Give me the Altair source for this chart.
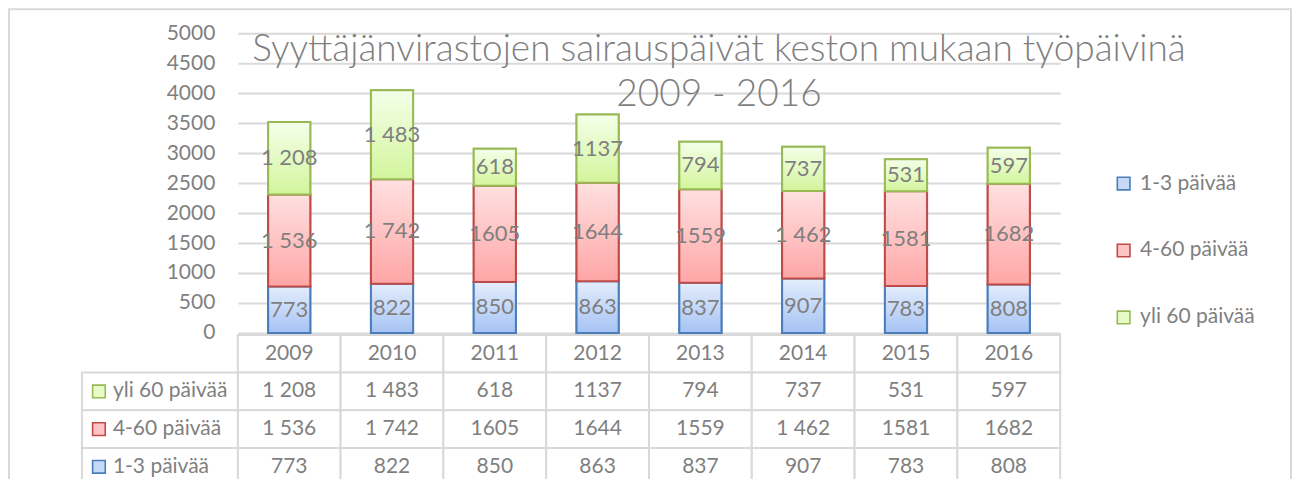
import altair as alt
import pandas as pd

# ---------------- data ----------------
years = ["2009", "2010", "2011", "2012", "2013", "2014", "2015", "2016"]
series = ["1-3 päivää", "4-60 päivää", "yli 60 päivää"]
v_short = [773, 822, 850, 863, 837, 907, 783, 808]
v_mid = [1536, 1742, 1605, 1644, 1559, 1462, 1581, 1682]
v_long = [1208, 1483, 618, 1137, 794, 737, 531, 597]
lbl_short = ["773", "822", "850", "863", "837", "907", "783", "808"]
lbl_mid = ["1 536", "1 742", "1605", "1644", "1559", "1 462", "1581", "1682"]
lbl_long = ["1 208", "1 483", "618", "1137", "794", "737", "531", "597"]
table_rows = ["Vuosi", "yli 60 päivää", "4-60 päivää", "1-3 päivää"]
y_ticks = list(range(0, 5001, 500))
title_lines = ["Syyttäjänvirastojen sairauspäivät keston mukaan työpäivinä", "2009 - 2016"]

# ---------------- styling ----------------
FONT = "Lato"
GREY = "#7f7f7f"
LINE = "#d9d9d9"
fill_solid = ["#c6d9f7", "#ffc4c4", "#e6fbc6"]
strokes = ["#4a7ebb", "#be4b48", "#98b954"]
grads = [
    ("#e3edfc", "#a6c3f4"),
    ("#ffe0e0", "#ffa6a6"),
    ("#f4ffe9", "#d3f59c"),
]

W, H = 823, 300
PAD_L, PAD_T = 230, 25
PAD_R = 1285 - PAD_L - W
PAD_B = 492 - 8 - PAD_T - H

# ---------------- tables ----------------
recs = []
for i, y in enumerate(years):
    for k, (s, vals, lbls) in enumerate(zip(series, [v_short, v_mid, v_long], [lbl_short, lbl_mid, lbl_long])):
        recs.append({"year": y, "series": s, "order": k, "value": vals[i], "label": lbls[i]})
df = pd.DataFrame(recs)

cells = []
for i, y in enumerate(years):
    cells.append({"year": y, "row": "Vuosi", "text": y})
    cells.append({"year": y, "row": "yli 60 päivää", "text": lbl_long[i]})
    cells.append({"year": y, "row": "4-60 päivää", "text": lbl_mid[i]})
    cells.append({"year": y, "row": "1-3 päivää", "text": lbl_short[i]})
df_cells = pd.DataFrame(cells)
df_rowlbl = pd.DataFrame({"col": ["lbl"] * 3, "row": table_rows[1:], "series": table_rows[1:]})

xs_bar = alt.Scale(domain=years, paddingInner=0.59, paddingOuter=0.295)
xs_tab = alt.Scale(domain=years, paddingInner=0, paddingOuter=0)
xs_lbl = alt.Scale(domain=["lbl"], range=[-156, 0], paddingInner=0, paddingOuter=0)
ys = alt.Scale(domain=[0, 5000], nice=False)
ys_tab = alt.Scale(domain=table_rows, range=[302, 302 + 4 * 37.7], paddingInner=0, paddingOuter=0)

fill_scale = alt.Scale(domain=series, range=fill_solid)
stroke_scale = alt.Scale(domain=series, range=strokes)
leg = alt.Legend(title=None, orient="none", legendX=876, legendY=140, symbolType="square",
                 symbolSize=160, symbolStrokeWidth=1.6, labelFontSize=21, labelColor=GREY,
                 labelFont=FONT, rowPadding=45, labelOffset=6)

stacked = alt.Chart(df).transform_stack(
    stack="value", groupby=["year"], sort=[alt.SortField("order")], as_=["y0", "y1"]
)

frame = alt.Chart(pd.DataFrame({"a": [0]})).mark_rect(
    fillOpacity=0, stroke=LINE, strokeWidth=2
).encode(x=alt.value(-229), x2=alt.value(W + PAD_R - 1), y=alt.value(-24), y2=alt.value(600))

base_bars = stacked.mark_bar(strokeWidth=2).encode(
    x=alt.X("year:N", scale=xs_bar, axis=None),
    y=alt.Y("y0:Q", scale=ys, axis=alt.Axis(values=y_ticks, grid=True, title=None, ticks=False,
                                             tickSize=0, domain=False, labelPadding=23, format="d",
                                             labelFontSize=21, labelColor=GREY, labelFont=FONT,
                                             gridColor=LINE, gridWidth=2)),
    y2="y1:Q",
    fill=alt.Fill("series:N", scale=fill_scale, legend=leg),
    stroke=alt.Stroke("series:N", scale=stroke_scale, legend=leg),
)

grad_layers = []
for s, (c0, c1), sc in zip(series, grads, strokes):
    g = alt.LinearGradient(gradient="linear", x1=0, x2=0, y1=0, y2=1,
                           stops=[alt.GradientStop(color=c0, offset=0), alt.GradientStop(color=c1, offset=1)])
    grad_layers.append(
        stacked.transform_filter(alt.datum.series == s).mark_bar(fill=g, stroke=sc, strokeWidth=2).encode(
            x=alt.X("year:N", scale=xs_bar, axis=None),
            y=alt.Y("y0:Q", scale=ys, axis=None),
            y2="y1:Q",
        )
    )

bar_labels = stacked.transform_calculate(mid="(datum.y0 + datum.y1) / 2").mark_text(
    font=FONT, fontSize=22, color=GREY
).encode(
    x=alt.X("year:N", scale=xs_bar, axis=None),
    y=alt.Y("mid:Q", scale=ys, axis=None),
    text="label:N",
)

tab_cells = alt.Chart(df_cells).mark_rect(fill="white", stroke=LINE, strokeWidth=2).encode(
    x=alt.X("year:N", scale=xs_tab, axis=None),
    y=alt.Y("row:N", scale=ys_tab, axis=None),
)
tab_text = alt.Chart(df_cells).mark_text(font=FONT, fontSize=21, color=GREY).encode(
    x=alt.X("year:N", scale=xs_tab, axis=None),
    y=alt.Y("row:N", scale=ys_tab, axis=None),
    text="text:N",
)
lbl_cells = alt.Chart(df_rowlbl).mark_rect(fill="white", stroke=LINE, strokeWidth=2).encode(
    x=alt.X("col:N", scale=xs_lbl, axis=None),
    y=alt.Y("row:N", scale=ys_tab, axis=None),
)
lbl_sym = alt.Chart(df_rowlbl).mark_point(shape="square", filled=True, size=160, strokeWidth=1.6,
                                          xOffset=-61, opacity=1).encode(
    x=alt.X("col:N", scale=xs_lbl, axis=None),
    y=alt.Y("row:N", scale=ys_tab, axis=None),
    fill=alt.Fill("series:N", scale=fill_scale, legend=None),
    stroke=alt.Stroke("series:N", scale=stroke_scale, legend=None),
)
lbl_text = alt.Chart(df_rowlbl).mark_text(font=FONT, fontSize=21, color=GREY, align="left", dx=-47).encode(
    x=alt.X("col:N", scale=xs_lbl, axis=None),
    y=alt.Y("row:N", scale=ys_tab, axis=None),
    text="row:N",
)

chart = alt.layer(
    frame, base_bars, *grad_layers, bar_labels, tab_cells, tab_text, lbl_cells, lbl_sym, lbl_text
).resolve_scale(
    x="independent", y="independent"
).properties(
    width=W, height=H,
    padding={"left": PAD_L, "top": PAD_T, "right": PAD_R, "bottom": PAD_B},
    autosize=alt.AutoSizeParams(type="none"),
    background="white",
    title=alt.Title(text=title_lines, fontSize=37, font=FONT, fontWeight=300, color=GREY,
                    anchor="middle", frame="group", dx=70, offset=-106, baseline="top",
                    lineHeight=45),
).configure_view(strokeWidth=0)

chart.save("out.html", embed_options={"renderer": "svg", "actions": False})
